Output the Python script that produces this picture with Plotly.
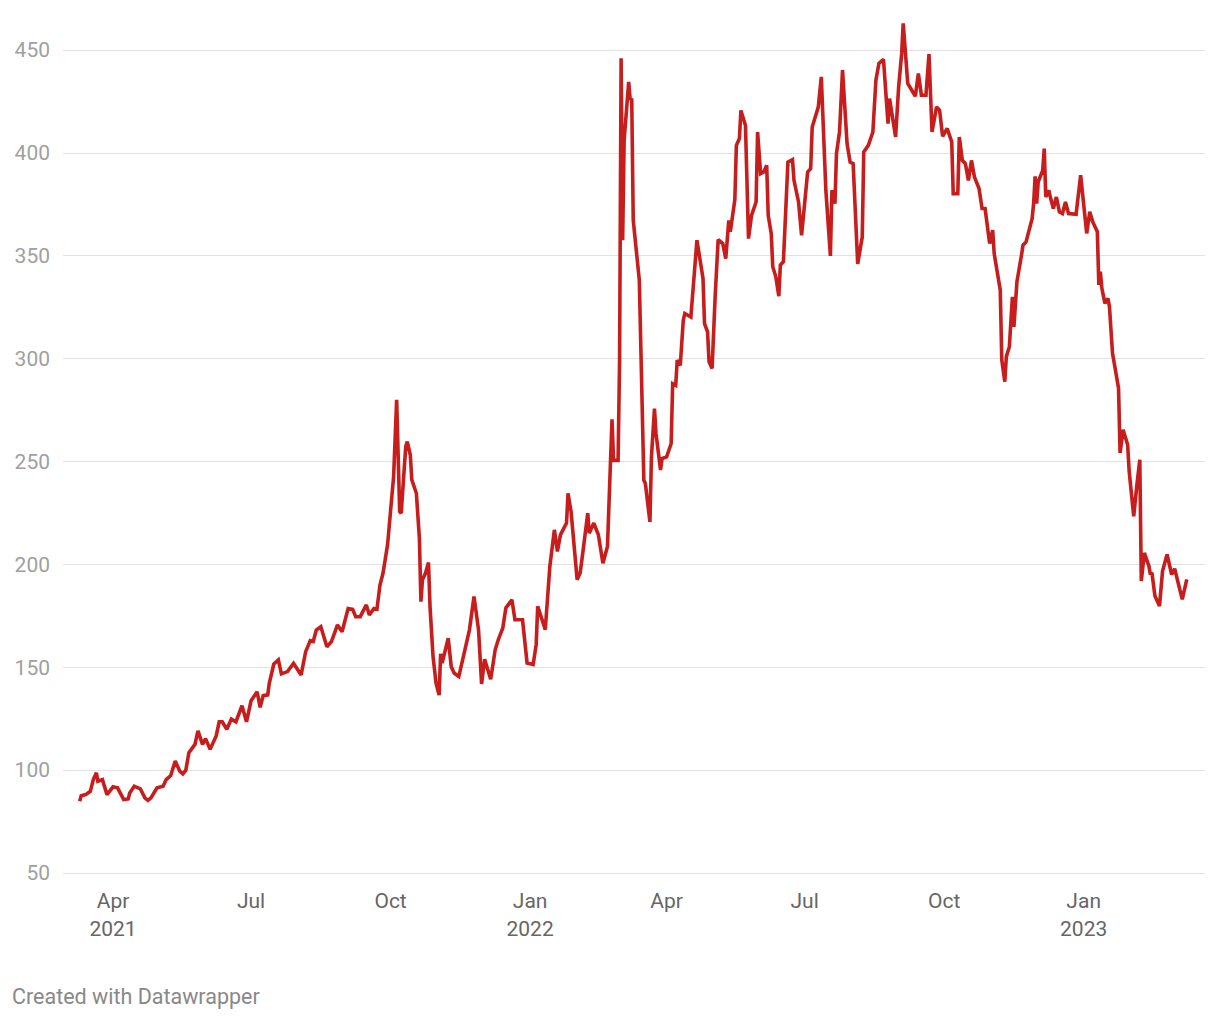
import pandas as pd
import plotly.graph_objects as go

# Days since 2021-01-01 and the plotted values
days = [68, 69, 72, 75, 77, 79, 80, 83, 86, 90, 93, 97, 100, 101, 104, 108, 111, 113, 115, 119,
        123, 125, 128, 131, 134, 136, 138, 140, 144, 146, 149, 151, 154, 158, 160, 162, 165, 168, 171, 175,
        178, 181, 185, 187, 189, 192, 193, 196, 199, 201, 205, 209, 214, 217, 220, 222, 224, 227, 231, 234,
        238, 241, 245, 248, 250, 253, 257, 259, 262, 264, 266, 268, 271, 273, 275, 277, 279, 280, 283, 284,
        286, 287, 290, 292, 293, 294, 296, 298, 299, 301, 303, 305, 306, 307, 311, 313, 315, 318, 320, 322,
        325, 328, 331, 333, 335, 339, 342, 344, 347, 349, 353, 355, 360, 363, 367, 369, 370, 375, 378, 381,
        383, 385, 389, 390, 392, 396, 398, 400, 403, 404, 407, 410, 413, 416, 418, 419, 420, 423, 424, 425,
        426, 427, 430, 431, 432, 433, 437, 440, 441, 444, 445, 447, 448, 451, 452, 455, 458, 459, 461, 462,
        464, 466, 467, 471, 475, 477, 479, 480, 482, 483, 485, 487, 489, 492, 494, 496, 497, 500, 501, 503,
        504, 507, 509, 511, 514, 515, 517, 519, 521, 522, 524, 525, 527, 529, 530, 532, 535, 538, 539, 542,
        544, 546, 548, 550, 551, 555, 557, 560, 563, 564, 566, 567, 569, 571, 573, 574, 576, 578, 581, 584,
        585, 588, 591, 593, 595, 598, 601, 602, 606, 608, 610, 611, 614, 617, 619, 621, 623, 626, 628, 630,
        633, 635, 637, 640, 643, 644, 647, 648, 650, 652, 654, 656, 658, 661, 663, 665, 668, 670, 671, 675,
        676, 678, 679, 681, 683, 684, 686, 689, 690, 692, 696, 697, 698, 699, 700, 703, 704, 705, 707, 708,
        710, 712, 714, 716, 718, 720, 725, 728, 730, 732, 734, 736, 739, 740, 741, 742, 744, 746, 747, 749,
        753, 754, 756, 759, 760, 761, 763, 765, 767, 768, 770, 773, 774, 775, 777, 780, 782, 785, 788, 790,
        793, 795, 798]

values = [84.9, 87.6, 88.1, 89.7, 95.4, 98.7, 94.6, 95.4, 88.1, 91.9, 91.4, 85.7, 86.0, 88.9, 92.2, 90.9, 86.5, 85.3, 86.5, 91.4,
          92.2, 95.4, 97.4, 104.4, 99.5, 98.2, 100.0, 108.5, 112.5, 119.1, 112.5, 115.3, 110.1, 116.6, 123.5, 123.5, 119.9, 124.8, 123.5, 131.3,
          123.5, 133.7, 138.1, 130.5, 136.2, 136.6, 142.2, 151.6, 153.6, 146.8, 147.9, 151.9, 146.3, 157.6, 162.9, 162.5, 168.1, 169.7, 160.0, 162.5,
          170.6, 167.3, 178.6, 178.2, 174.6, 174.6, 180.3, 175.4, 178.6, 178.2, 190.0, 195.7, 209.5, 224.9, 242.7, 280.0, 225.7, 224.9, 257.3, 259.7,
          253.2, 241.1, 234.6, 212.7, 181.9, 192.5, 195.7, 200.9, 179.5, 155.2, 142.2, 136.5, 156.5, 152.0, 164.1, 150.3, 147.1, 145.5, 152.0, 156.8,
          168.2, 184.4, 168.2, 141.9, 153.9, 144.2, 158.6, 163.4, 169.1, 178.8, 182.8, 173.1, 173.1, 152.1, 151.3, 161.0, 179.6, 168.3, 199.0, 216.8,
          206.3, 214.4, 220.1, 234.6, 225.7, 192.6, 195.8, 207.1, 224.9, 215.2, 220.1, 214.4, 200.6, 208.7, 250.8, 270.5, 250.6, 250.6, 299.3, 446.0,
          357.6, 406.2, 434.6, 425.7, 426.5, 367.3, 338.2, 240.9, 239.3, 220.7, 252.3, 275.8, 263.7, 245.9, 251.5, 252.3, 258.8, 287.9, 287.1, 299.3,
          296.8, 318.7, 322.0, 320.3, 357.6, 347.9, 339.0, 317.1, 313.0, 298.5, 295.3, 330.1, 357.9, 356.0, 348.7, 367.3, 361.7, 377.3, 403.7, 407.0,
          420.7, 413.4, 358.4, 369.7, 376.2, 410.2, 390.0, 390.8, 394.0, 369.7, 360.8, 344.7, 339.8, 330.4, 345.5, 347.1, 395.6, 396.8, 386.7, 376.2,
          360.0, 375.4, 390.8, 392.4, 412.6, 422.3, 437.0, 381.9, 350.0, 381.9, 375.4, 399.7, 410.2, 440.3, 419.2, 404.5, 395.6, 394.8, 346.1, 359.1,
          400.5, 403.7, 410.2, 435.4, 443.5, 445.5, 414.3, 426.5, 407.8, 432.1, 448.4, 463.0, 433.8, 429.7, 427.6, 438.6, 428.1, 428.1, 448.1, 410.2,
          422.4, 420.8, 408.1, 411.9, 405.4, 380.2, 380.2, 407.8, 396.4, 394.8, 386.7, 396.4, 388.3, 382.7, 373.0, 373.0, 356.0, 362.5, 351.1, 333.3,
          299.4, 288.8, 301.0, 305.8, 330.1, 315.5, 337.4, 350.3, 355.2, 356.8, 368.1, 375.4, 388.7, 375.4, 385.9, 391.6, 402.1, 378.6, 381.9, 378.6,
          373.0, 378.6, 371.4, 370.6, 376.2, 370.6, 370.2, 389.2, 373.8, 360.9, 371.4, 366.5, 361.7, 335.8, 342.3, 334.2, 326.9, 329.3, 325.3, 302.7,
          285.7, 254.2, 265.5, 258.2, 245.3, 236.4, 223.4, 238.0, 250.9, 191.9, 205.6, 199.2, 195.1, 196.0, 184.6, 179.8, 196.8, 204.9, 195.1, 197.9,
          189.5, 183.0, 192.7]

tick_dates = ["2021-04-01", "2021-07-01", "2021-10-01", "2022-01-01", "2022-04-01",
              "2022-07-01", "2022-10-01", "2023-01-01"]
tick_labels = ["Apr<br>2021", "Jul", "Oct", "Jan<br>2022", "Apr", "Jul", "Oct", "Jan<br>2023"]
y_ticks = [50, 100, 150, 200, 250, 300, 350, 400, 450]

dates = pd.Timestamp("2021-01-01") + pd.to_timedelta(days, unit="D")

fig = go.Figure()
fig.add_trace(go.Scatter(
    x=dates, y=values, mode="lines",
    line=dict(color="#c71e1d", width=3.6),
    hoverinfo="x+y", showlegend=False,
))

fig.update_layout(
    width=1204, height=1004,
    margin=dict(l=55, r=7, t=1, b=139),
    paper_bgcolor="white", plot_bgcolor="white",
    font=dict(family="Roboto, sans-serif"),
    xaxis=dict(
        range=["2021-02-27", "2023-03-22"],
        tickvals=tick_dates, ticktext=tick_labels,
        showgrid=False, zeroline=False,
        showline=True, linecolor="#e2e2e2", linewidth=1.3,
        ticks="", ticklabelstandoff=9,
        tickfont=dict(size=21, color="#666666"),
    ),
    yaxis=dict(
        range=[50, 470],
        tickvals=y_ticks,
        showgrid=True, gridcolor="#e2e2e2", gridwidth=1.3,
        zeroline=False, showline=False, ticks="",
        ticklabelstandoff=12,
        tickfont=dict(size=21, color="#a0a0a0"),
    ),
    annotations=[dict(
        text="Created with Datawrapper", xref="paper", yref="paper",
        x=-0.0465, y=-0.1435, xanchor="left", yanchor="middle", showarrow=False,
        font=dict(size=21.5, color="#888888", family="Roboto, sans-serif"),
    )],
)

fig.write_html("out.html")
